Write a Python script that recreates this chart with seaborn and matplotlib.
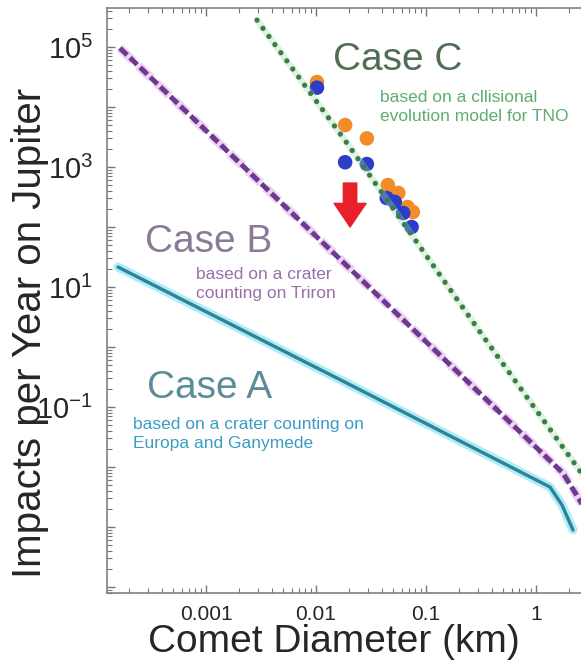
import numpy as np
import pandas as pd
import seaborn as sns
import matplotlib
matplotlib.use('Agg')
from matplotlib import pyplot as plt
from matplotlib.ticker import LogLocator, FuncFormatter, NullFormatter

# curves (diameter in km, impacts per year)
caseA_d = [1.585e-4, 0.0204, 1.34, 1.72, 2.17]
caseA_n = [21.5, 0.235, 0.00464, 0.00234, 0.00089]

caseB_d = [1.65e-4, 0.0102, 1.76, 2.56, 3.82]
caseB_n = [9.6e4, 68, 0.0079, 0.0026, 0.00085]

caseC_d = [0.00291, 0.0191, 0.31, 3.1]
caseC_n = [2.8e5, 2512, 1.78, 0.005]

# observed impacts
orange_d = [0.0102, 0.0184, 0.029, 0.045, 0.056, 0.068, 0.076]
orange_n = [2.6e4, 5.0e3, 3.0e3, 500, 370, 215, 178]
blue_d = [0.0102, 0.0184, 0.029, 0.044, 0.052, 0.062, 0.074]
blue_n = [2.1e4, 1.2e3, 1.12e3, 304, 262, 171, 100]

arrow_d = 0.0204
arrow_top, arrow_tip = 540, 100

ylabels_shown = [5, 3, 1, -1]

sns.set_theme(style="ticks")
plt.rcParams['font.family'] = ['Liberation Sans', 'DejaVu Sans']
plt.rcParams['mathtext.fontset'] = 'custom'
plt.rcParams['mathtext.rm'] = 'Liberation Sans'

W, H = 581, 666
fig = plt.figure(figsize=(W / 100, H / 100), dpi=100)
ax = fig.add_axes([107 / W, 73 / H, 495 / W, 585 / H])

dfA = pd.DataFrame({'d': caseA_d, 'n': caseA_n})
dfB = pd.DataFrame({'d': caseB_d, 'n': caseB_n})
dfC = pd.DataFrame({'d': caseC_d, 'n': caseC_n})

# case A: teal line with a cyan glow
sns.lineplot(data=dfA, x='d', y='n', sort=False, ax=ax, color='#8fe3f7', lw=6.5, alpha=0.7)
sns.lineplot(data=dfA, x='d', y='n', sort=False, ax=ax, color='#2c8496', lw=2.4)

# case B: purple dashes
sns.lineplot(data=dfB, x='d', y='n', sort=False, ax=ax, color='#e3b4ec', lw=6.5, alpha=0.6,
             linestyle=(0, (2, 0.8)))
sns.lineplot(data=dfB, x='d', y='n', sort=False, ax=ax, color='#6e3a90', lw=3.6,
             linestyle=(0, (2, 0.8)), dash_capstyle='butt')

# case C: green dots
sns.lineplot(data=dfC, x='d', y='n', sort=False, ax=ax, color='#a8dba8', lw=5, alpha=0.35)
sns.lineplot(data=dfC, x='d', y='n', sort=False, ax=ax, color='#3b7d48', lw=3.8,
             linestyle=(0, (0.01, 1.9)), dash_capstyle='round')

sns.scatterplot(x=orange_d, y=orange_n, ax=ax, color='#f28c28', s=110, edgecolor='none')
sns.scatterplot(x=blue_d, y=blue_n, ax=ax, color='#2b3ec8', s=110, edgecolor='none')

ax.annotate('', xy=(arrow_d, arrow_tip), xytext=(arrow_d, arrow_top),
            arrowprops=dict(arrowstyle='simple,head_length=0.85,head_width=1.15,tail_width=0.48',
                            color='#e8202a', shrinkA=0, shrinkB=0, mutation_scale=20))

ax.set_xscale('log')
ax.set_yscale('log')
ax.set_xlim(10 ** -3.9, 10 ** 0.6)
ax.set_ylim(10 ** -4.1, 10 ** 5.65)

ax.xaxis.set_major_locator(LogLocator(base=10, numticks=100))
ax.yaxis.set_major_locator(LogLocator(base=10, numticks=100))
ax.xaxis.set_minor_locator(LogLocator(base=10, subs=np.arange(2, 10), numticks=100))
ax.yaxis.set_minor_locator(LogLocator(base=10, subs=np.arange(2, 10), numticks=100))
ax.xaxis.set_minor_formatter(NullFormatter())
ax.yaxis.set_minor_formatter(NullFormatter())


def xfmt(v, pos):
    e = int(round(np.log10(v)))
    if -3 <= e <= 0:
        return '{:g}'.format(10.0 ** e)
    return ''


def yfmt(v, pos):
    e = int(round(np.log10(v)))
    if e in ylabels_shown:
        return r'$\mathregular{10^{%d}}$' % e
    return ''


ax.xaxis.set_major_formatter(FuncFormatter(xfmt))
ax.yaxis.set_major_formatter(FuncFormatter(yfmt))
ax.tick_params(which='both', direction='in', top=True, right=False, color='#777777')
ax.tick_params(which='major', length=6, width=1)
ax.tick_params(which='minor', length=3.5, width=0.8)
ax.tick_params(axis='x', which='major', labelsize=15, pad=9)
ax.tick_params(axis='y', which='major', labelsize=21, pad=10)
for s in ax.spines.values():
    s.set_color('#808080')
    s.set_linewidth(1.2)
ax.set_xlabel('')
ax.set_ylabel('')

fig.text(30 / W, 1 - 333 / H, 'Impacts per Year on Jupiter', rotation=90,
         ha='center', va='center', fontsize=29)
fig.text(334 / W, 1 - 652 / H, 'Comet Diameter (km)', ha='center', va='baseline', fontsize=28)

title_kw = dict(ha='left', va='center', fontsize=28)
sub_kw = dict(ha='left', va='center', fontsize=12.5, linespacing=1.35)
fig.text(333 / W, 1 - 60 / H, 'Case C', color='#4f6e55', **title_kw)
fig.text(380 / W, 1 - 107 / H, 'based on a cllisional\nevolution model for TNO', color='#5dae6e', **sub_kw)
fig.text(145 / W, 1 - 242 / H, 'Case B', color='#8a7a95', **title_kw)
fig.text(196 / W, 1 - 284 / H, 'based on a crater\ncounting on Triron', color='#9a6faa', **sub_kw)
fig.text(147 / W, 1 - 388 / H, 'Case A', color='#5d8c98', **title_kw)
fig.text(133 / W, 1 - 434 / H, 'based on a crater counting on\nEuropa and Ganymede', color='#3c9cc4', **sub_kw)

fig.savefig('out.png', dpi=100)
